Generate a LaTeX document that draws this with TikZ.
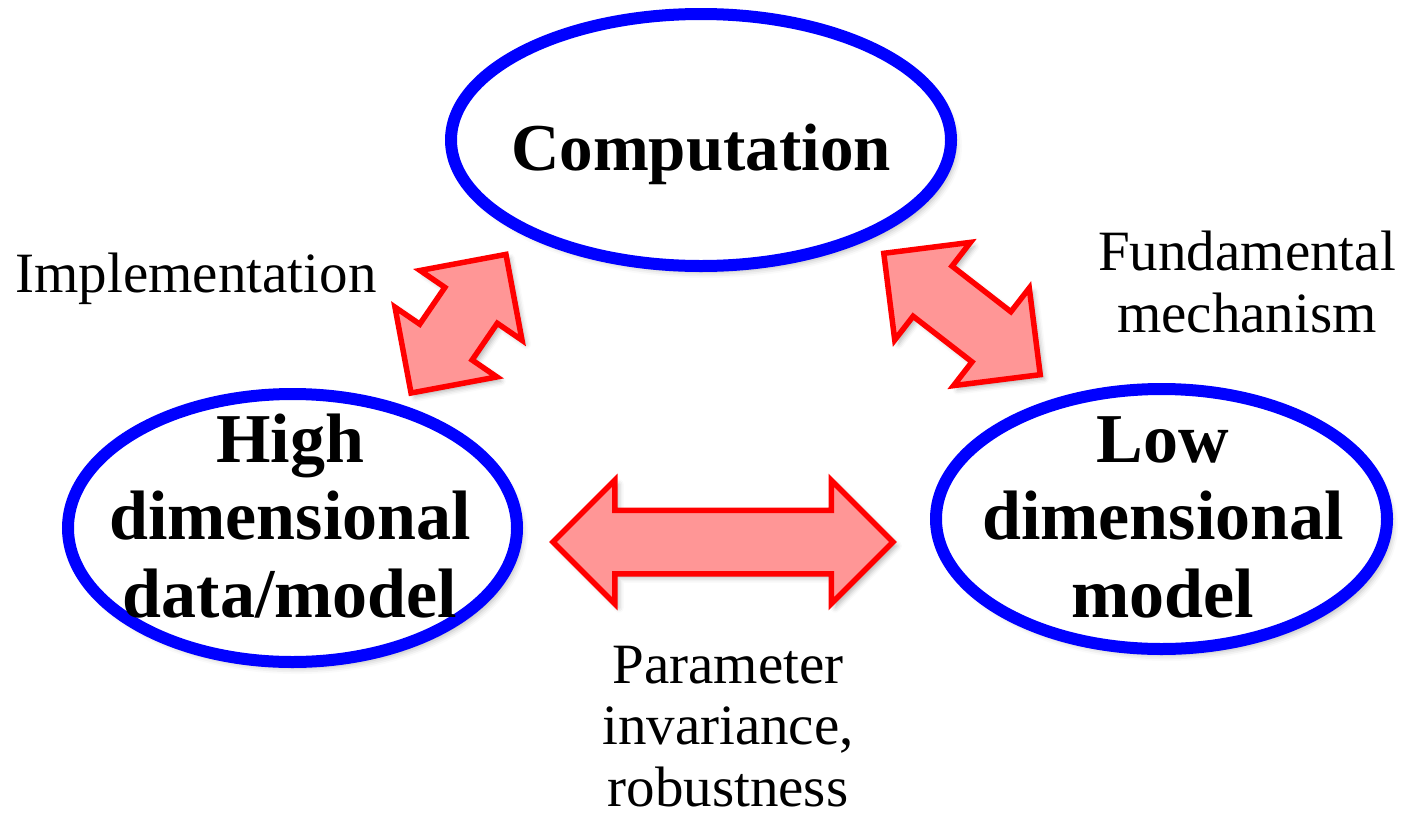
\documentclass[tikz,border=0pt]{standalone}
\usepackage{fontspec}
\setmainfont{Liberation Serif}
\usetikzlibrary{shapes.geometric,shapes.arrows,shadows.blur}
\definecolor{ovalblue}{RGB}{0,0,255}
\definecolor{arrowfill}{RGB}{255,150,150}
\tikzset{
  oval/.style={ellipse, draw=ovalblue, line width=12pt, fill=white, inner sep=0pt,
    blur shadow={shadow xshift=5pt, shadow yshift=-6pt, shadow blur radius=6pt, shadow opacity=30}},
  bigtext/.style={font=\fontsize{70}{77.5}\selectfont\bfseries, align=center, anchor=base},
  note/.style={font=\fontsize{57}{61.5}\selectfont, align=center, anchor=base, inner sep=1pt},
  link/.style={double arrow, draw=red, fill=arrowfill, line width=5.5pt,
    double arrow tip angle=90, double arrow head extend=30pt,
    inner xsep=0pt, inner ysep=29pt, minimum width=118pt,
    blur shadow={shadow xshift=4pt, shadow yshift=-4pt, shadow blur radius=5pt, shadow opacity=30}},
}
\begin{document}
\begin{tikzpicture}[x=1pt,y=-1pt]
\useasboundingbox (0,0) rectangle (1408,817);

% the three ovals
\node[oval, minimum width=500pt, minimum height=252pt] (comp) at (701,140) {};
\node[oval, minimum width=449pt, minimum height=268pt] (high) at (292.5,528) {};
\node[oval, minimum width=451pt, minimum height=260pt] (low)  at (1161.5,519) {};

% oval captions (anchored at the baseline of the last line)
\node[bigtext, font=\fontsize{67}{77.5}\selectfont\bfseries] (comptext) at (701,170) {Computation};
\node[bigtext] (hightext) at (290,617) {High\\dimensional\\data/model};
\node[bigtext] (lowtext) at (1163,617) {Low\\dimensional\\model};

% two-headed block arrows between the ovals
\node[link, minimum height=168pt, rotate=55.6]  (implarrow) at (458.5,323.7) {};
\node[link, minimum height=198pt, rotate=-37.8] (fundarrow) at (962,314) {};
\node[link, minimum height=340pt]               (pararrow)  at (723,542) {};

% arrow labels
\node[note] (impl) at (196,292) {Implementation};
\node[note] (fund) at (1247,332) {Fundamental\\mechanism};
\node[note] (para) at (728,806) {Parameter\\invariance,\\robustness};
\end{tikzpicture}
\end{document}
